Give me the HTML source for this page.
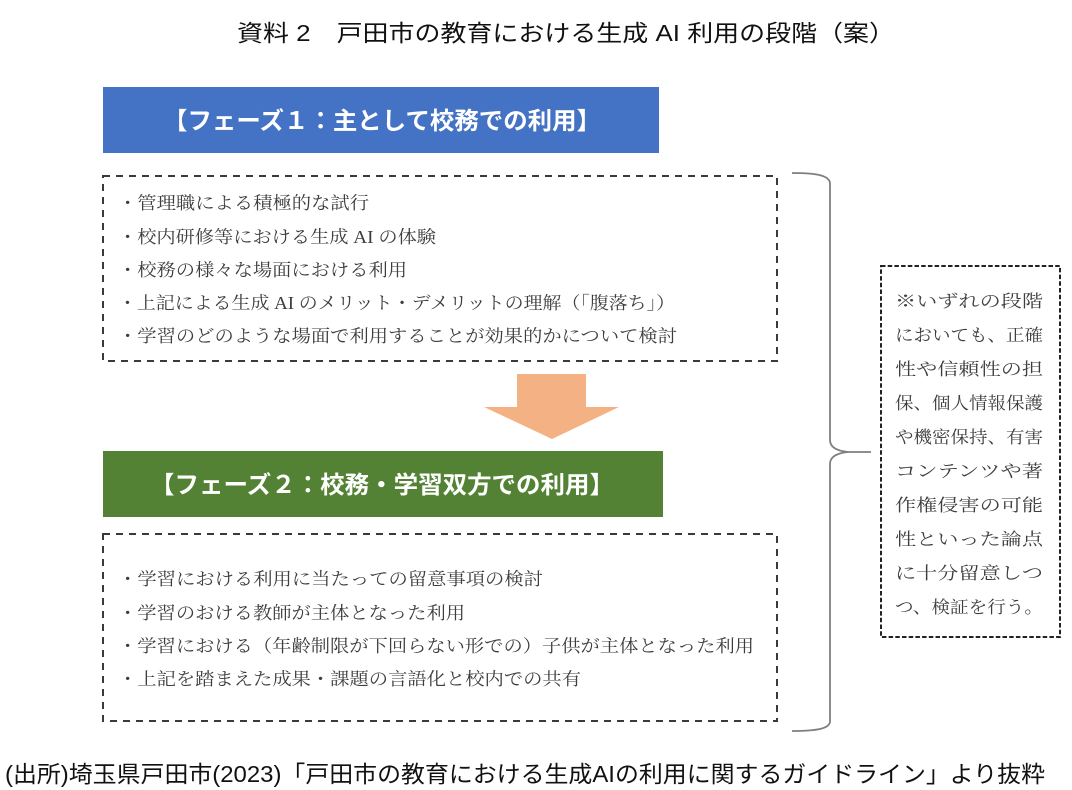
<!DOCTYPE html>
<html>
<head>
<meta charset="utf-8">
<style>
  html,body{margin:0;padding:0;background:#fff;}
  svg{display:block;}
  .sans{font-family:"Liberation Sans","Noto Sans CJK JP",sans-serif;}
  .serif{font-family:"Liberation Serif","Noto Serif CJK SC",serif;}
</style>
</head>
<body>
<svg width="1072" height="790" viewBox="0 0 1072 790" xmlns="http://www.w3.org/2000/svg">
  <rect x="0" y="0" width="1072" height="790" fill="#ffffff"/>

  <!-- Title -->
  <text class="sans" x="237" y="41" font-size="23" fill="#111" textLength="658" lengthAdjust="spacingAndGlyphs">資料 2　戸田市の教育における生成 AI 利用の段階（案）</text>

  <!-- Phase 1 header -->
  <rect x="103" y="87" width="556" height="66" fill="#4472C4"/>
  <text class="sans" x="163" y="129" font-size="24" font-weight="bold" fill="#ffffff" textLength="438" lengthAdjust="spacingAndGlyphs">【フェーズ１：主として校務での利用】</text>

  <!-- Phase 1 dashed box -->
  <rect x="103" y="176" width="674" height="185" fill="none" stroke="#3a3a3a" stroke-width="2" stroke-dasharray="7 6"/>
  <g class="serif" font-size="17.5" fill="#3d3d3d">
    <text x="118" y="209" textLength="251" lengthAdjust="spacingAndGlyphs">・管理職による積極的な試行</text>
    <text x="118" y="243" textLength="318" lengthAdjust="spacingAndGlyphs">・校内研修等における生成 AI の体験</text>
    <text x="118" y="276" textLength="289" lengthAdjust="spacingAndGlyphs">・校務の様々な場面における利用</text>
    <text x="118" y="309" textLength="557" lengthAdjust="spacingAndGlyphs">・上記による生成 AI のメリット・デメリットの理解（「腹落ち」）</text>
    <text x="118" y="342" textLength="559" lengthAdjust="spacingAndGlyphs">・学習のどのような場面で利用することが効果的かについて検討</text>
  </g>

  <!-- Arrow -->
  <polygon points="517,374 586,374 586,407 619,407 552,439 484,407 517,407" fill="#F4B183"/>

  <!-- Phase 2 header -->
  <rect x="103" y="451" width="560" height="66" fill="#548235"/>
  <text class="sans" x="150" y="493" font-size="24" font-weight="bold" fill="#ffffff" textLength="464" lengthAdjust="spacingAndGlyphs">【フェーズ２：校務・学習双方での利用】</text>

  <!-- Phase 2 dashed box -->
  <rect x="103" y="534" width="674" height="187" fill="none" stroke="#3a3a3a" stroke-width="2" stroke-dasharray="7 6"/>
  <g class="serif" font-size="17.5" fill="#3d3d3d">
    <text x="118" y="585" textLength="425" lengthAdjust="spacingAndGlyphs">・学習における利用に当たっての留意事項の検討</text>
    <text x="118" y="619" textLength="347" lengthAdjust="spacingAndGlyphs">・学習のおける教師が主体となった利用</text>
    <text x="118" y="652" textLength="636" lengthAdjust="spacingAndGlyphs">・学習における（年齢制限が下回らない形での）子供が主体となった利用</text>
    <text x="118" y="685" textLength="463" lengthAdjust="spacingAndGlyphs">・上記を踏まえた成果・課題の言語化と校内での共有</text>
  </g>

  <!-- Brace -->
  <path d="M792,173 C815,173 829,175 830,183 L830,440 C830,448 838,451 848,452 L871,452 M848,452 C838,453 830,456 830,464 L830,722 C829,729 815,731 792,731"
        fill="none" stroke="#7f7f7f" stroke-width="1.8"/>

  <!-- Right dashed box -->
  <rect x="881" y="266" width="179" height="371" fill="none" stroke="#222" stroke-width="2" stroke-dasharray="4.5 2.2"/>
  <g class="serif" font-size="17" fill="#3d3d3d">
    <text x="895" y="307" textLength="148" lengthAdjust="spacingAndGlyphs">※いずれの段階</text>
    <text x="895" y="341" textLength="148" lengthAdjust="spacingAndGlyphs">においても、正確</text>
    <text x="895" y="375" textLength="148" lengthAdjust="spacingAndGlyphs">性や信頼性の担</text>
    <text x="895" y="409" textLength="148" lengthAdjust="spacingAndGlyphs">保、個人情報保護</text>
    <text x="895" y="443" textLength="148" lengthAdjust="spacingAndGlyphs">や機密保持、有害</text>
    <text x="895" y="477" textLength="148" lengthAdjust="spacingAndGlyphs">コンテンツや著</text>
    <text x="895" y="511" textLength="148" lengthAdjust="spacingAndGlyphs">作権侵害の可能</text>
    <text x="895" y="545" textLength="148" lengthAdjust="spacingAndGlyphs">性といった論点</text>
    <text x="895" y="579" textLength="148" lengthAdjust="spacingAndGlyphs">に十分留意しつ</text>
    <text x="895" y="613" textLength="148" lengthAdjust="spacingAndGlyphs">つ、検証を行う。</text>
  </g>

  <!-- Footer -->
  <text class="sans" x="5" y="782" font-size="23" fill="#111" textLength="1040" lengthAdjust="spacingAndGlyphs">(出所)埼玉県戸田市(2023)「戸田市の教育における生成AIの利用に関するガイドライン」より抜粋</text>
</svg>
</body>
</html>
